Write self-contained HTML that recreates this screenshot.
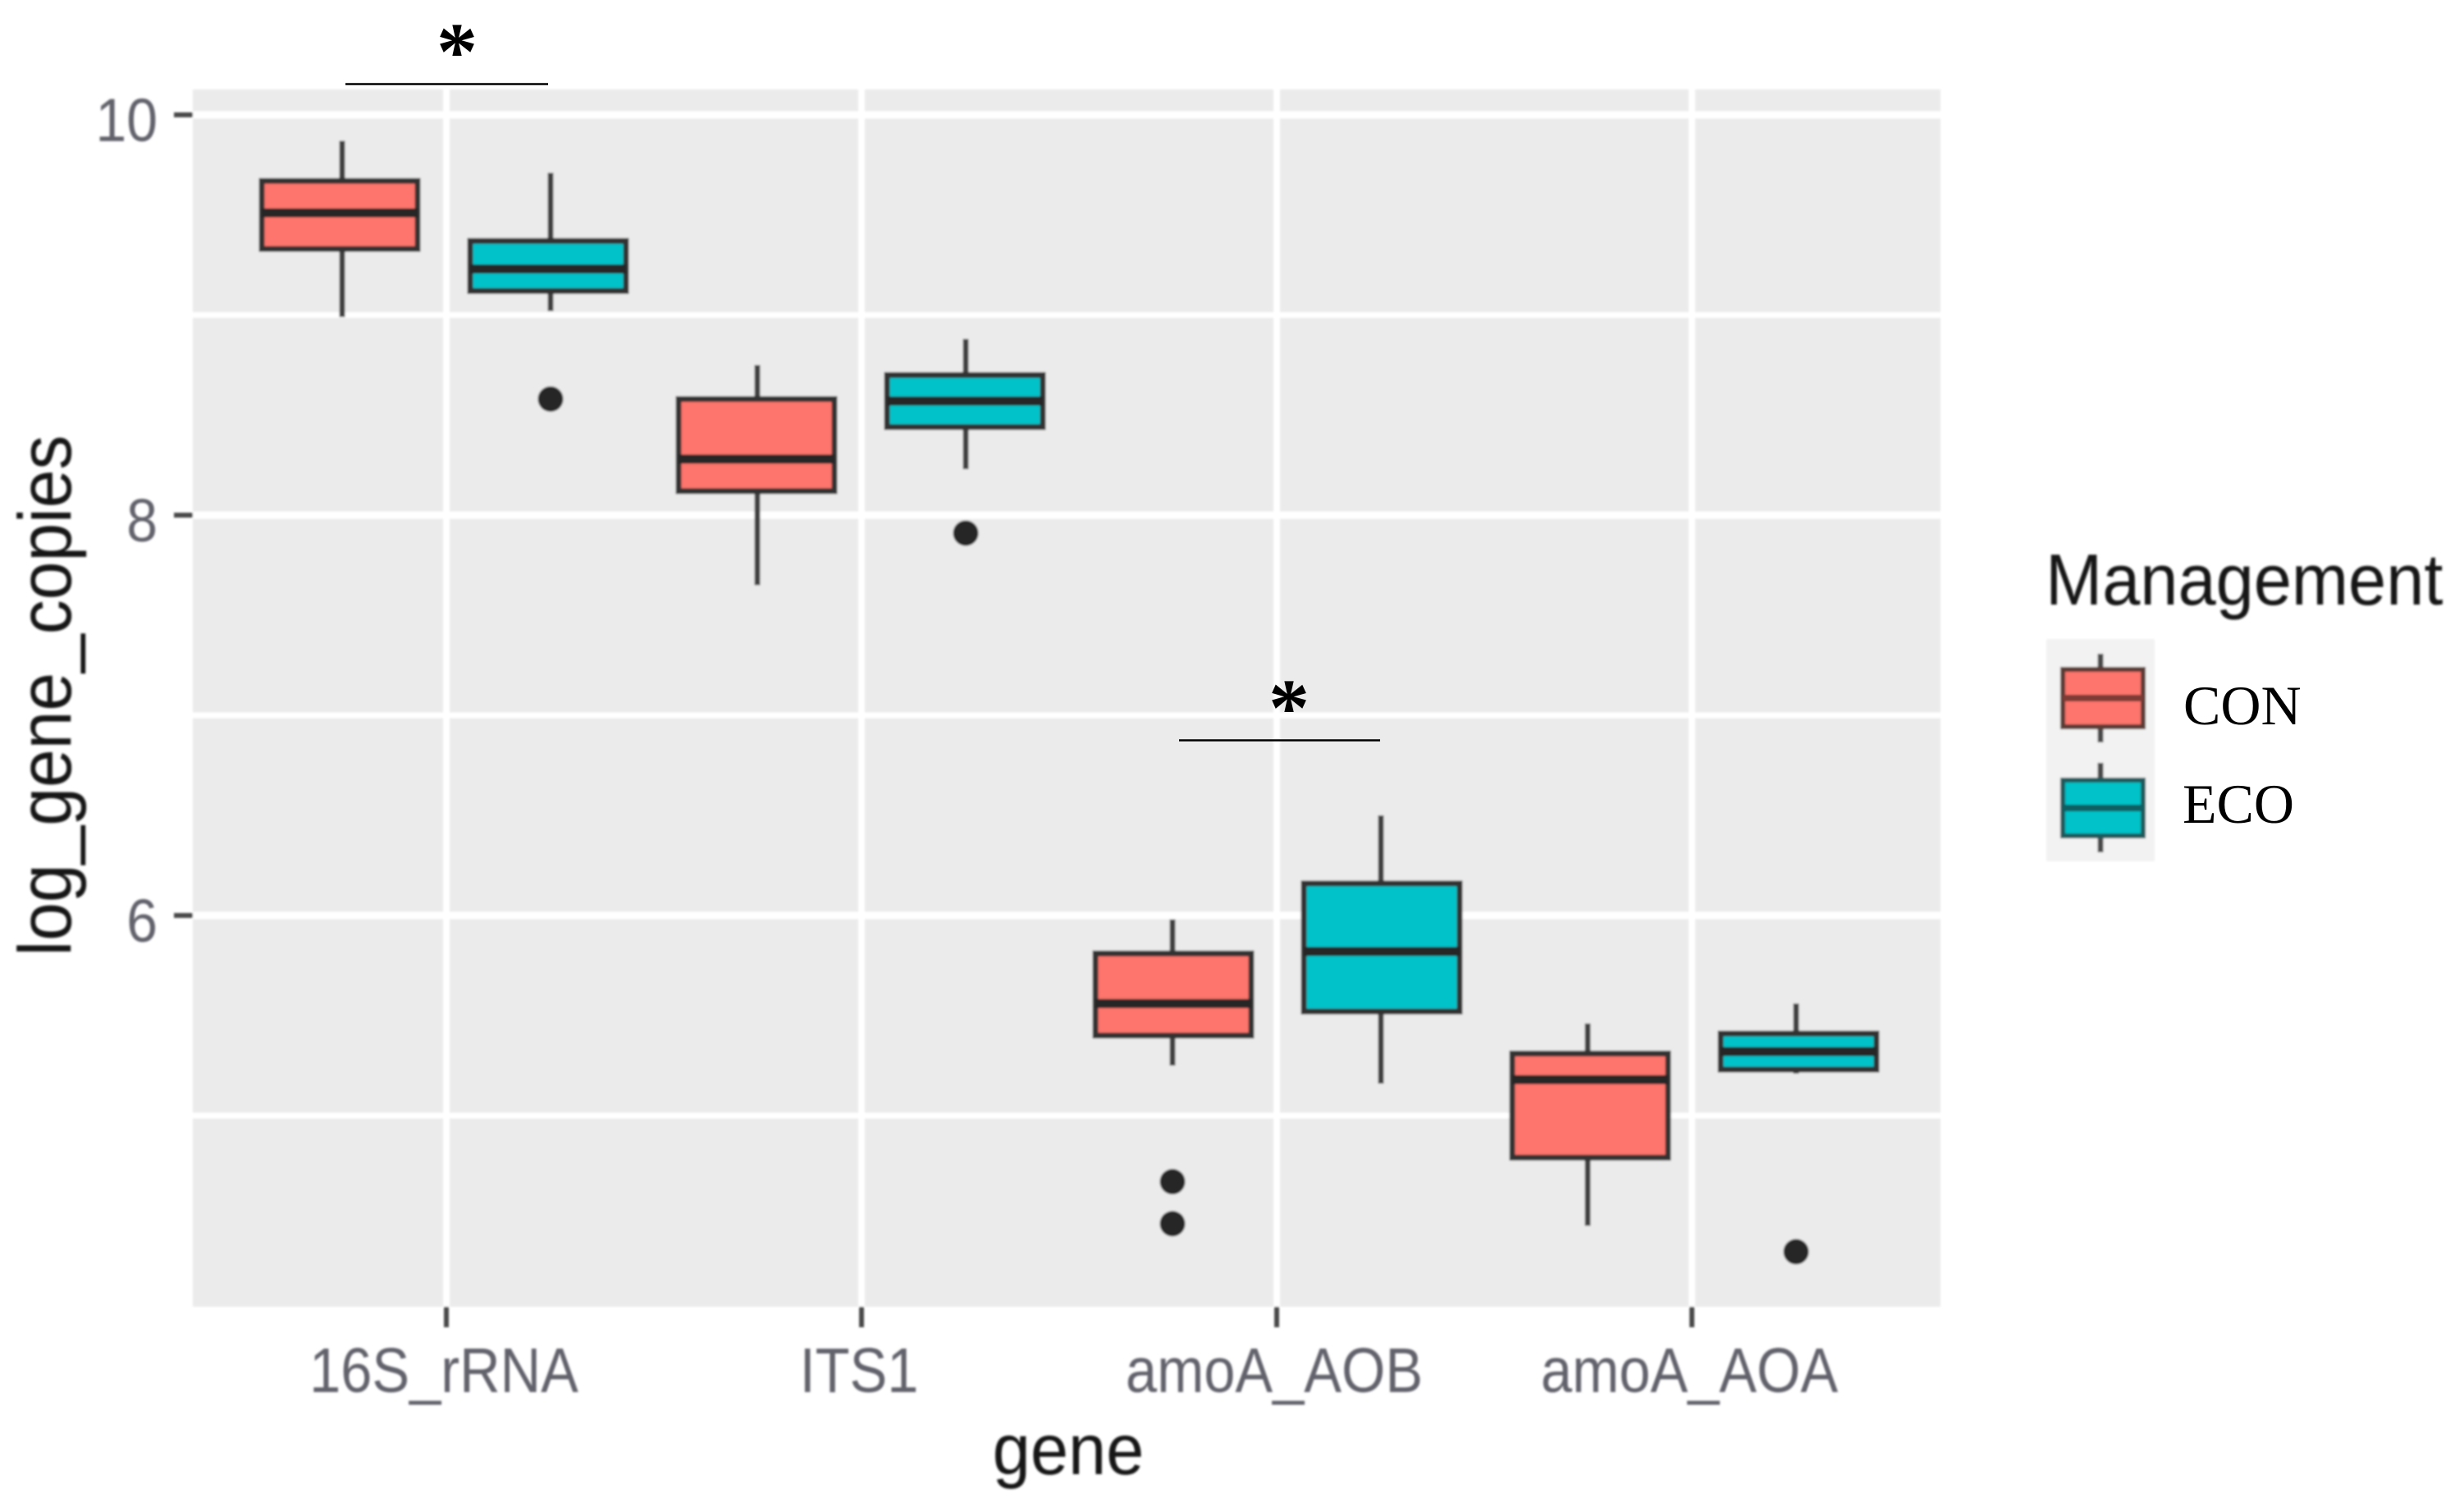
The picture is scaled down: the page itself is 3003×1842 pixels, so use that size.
<!DOCTYPE html>
<html lang="en">
<head>
<meta charset="utf-8">
<title>log_gene_copies by gene and management</title>
<style>
  html, body { margin: 0; padding: 0; background: #fff; }
  svg { display: block; }
  text { font-family: "Liberation Sans", sans-serif; }
</style>
</head>
<body>
<svg id="chart" xmlns="http://www.w3.org/2000/svg" width="3003" height="1842" viewBox="0 0 3003 1842">
  <defs>
    <filter id="soft" x="-5%" y="-5%" width="110%" height="110%">
      <feGaussianBlur stdDeviation="1.3"/>
    </filter>
  </defs>
  <rect x="0" y="0" width="3003" height="1842" fill="#ffffff"/>
  <g filter="url(#soft)">
    <rect x="235" y="109" width="2130" height="1484" fill="#ebebeb"/>
    <g id="grid"></g>
    <g id="axes"></g>
    <g id="marks"></g>

    <text transform="translate(1302 1797) scale(1 1.05)" font-size="83" text-anchor="middle" fill="#141414">gene</text>
    <text transform="translate(86 848) rotate(-90) scale(1 1.08)" font-size="84" text-anchor="middle" fill="#141414">log_gene_copies</text>
  </g>

  <g>
    <line x1="421" x2="668" y1="102.5" y2="102.5" stroke="#000" stroke-width="2.6"/>
    <text x="557" y="96" font-size="100" font-weight="bold" text-anchor="middle" fill="#000" style="font-family:'Liberation Serif',serif">*</text>
  </g>
  <g>
    <line x1="1437" x2="1682" y1="902.5" y2="902.5" stroke="#000" stroke-width="2.6"/>
    <text x="1571" y="896" font-size="100" font-weight="bold" text-anchor="middle" fill="#000" style="font-family:'Liberation Serif',serif">*</text>
  </g>

  <g>
    <g filter="url(#soft)">
      <text transform="translate(2493 737) scale(1 1.06)" font-size="83" fill="#141414">Management</text>
      <rect x="2494" y="779" width="132" height="271" fill="#f2f2f2"/>
      <g>
        <line x1="2560" x2="2560" y1="797" y2="905" stroke="#4a4a4a" stroke-width="7"/>
        <rect x="2514" y="816" width="98" height="70" fill="#fd756c" stroke="#5c3a36" stroke-width="6"/>
        <line x1="2514" x2="2612" y1="851" y2="851" stroke="#7d3a34" stroke-width="8"/>
      </g>
      <g>
        <line x1="2560" x2="2560" y1="930" y2="1039" stroke="#4a4a4a" stroke-width="7"/>
        <rect x="2514" y="951" width="98" height="68" fill="#00c2c8" stroke="#1f5a5c" stroke-width="6"/>
        <line x1="2514" x2="2612" y1="985" y2="985" stroke="#0d5f62" stroke-width="8"/>
      </g>
    </g>
    <text x="2661" y="883" font-size="68" fill="#000" style="font-family:'Liberation Serif',serif">CON</text>
    <text x="2660" y="1003" font-size="68" fill="#000" style="font-family:'Liberation Serif',serif">ECO</text>
  </g>
</svg>

<script>
const categories = ['16S_rRNA', 'ITS1', 'amoA_AOB', 'amoA_AOA'];
const yMajorTicks = [10, 8, 6];
const yMinorTicks = [9, 7, 5];

const conWhiskerHigh = [9.87, 8.75, 5.98, 5.46];
const conQ3 = [9.67, 8.58, 5.81, 5.31];
const conMedian = [9.51, 8.28, 5.56, 5.18];
const conQ1 = [9.33, 8.12, 5.40, 4.79];
const conWhiskerLow = [8.99, 7.65, 5.25, 4.45];
const conOutliers = [[], [], [4.67, 4.46], []];

const ecoWhiskerHigh = [9.71, 8.88, 6.50, 5.56];
const ecoQ3 = [9.37, 8.70, 6.16, 5.41];
const ecoMedian = [9.23, 8.57, 5.82, 5.32];
const ecoQ1 = [9.12, 8.44, 5.52, 5.23];
const ecoWhiskerLow = [9.02, 8.23, 5.16, 5.21];
const ecoOutliers = [[8.58], [7.91], [], [4.32]];

const SVG_NS = 'http://www.w3.org/2000/svg';
const PANEL = { left: 235, right: 2365, top: 109, bottom: 1593 };

function yAxis(v) { return 140 + (10 - v) * 244; }
function xTick(i) { return 544 + 506 * i; }
function xBox(i, side) { return 541 + 508 * i + side * 127; }
function xWhisker(i, side) { return 544 + 506 * i + side * 127; }

function make(parent, tag, attrs) {
  const el = document.createElementNS(SVG_NS, tag);
  Object.keys(attrs).forEach(function (k) { el.setAttribute(k, attrs[k]); });
  parent.appendChild(el);
  return el;
}

const grid = document.getElementById('grid');
const axes = document.getElementById('axes');
const marks = document.getElementById('marks');

yMinorTicks.forEach(function (t) {
  const el = make(grid, 'line', { x1: PANEL.left, x2: PANEL.right, y1: yAxis(t), y2: yAxis(t), stroke: '#ffffff', 'stroke-width': 7 });
  
  
});
yMajorTicks.forEach(function (t) {
  const el = make(grid, 'line', { x1: PANEL.left, x2: PANEL.right, y1: yAxis(t), y2: yAxis(t), stroke: '#ffffff', 'stroke-width': 9 });
  
  

  const tick = make(axes, 'line', { x1: 212, x2: 235, y1: yAxis(t), y2: yAxis(t), stroke: '#4a4a4a', 'stroke-width': 6 });
  
  

  const label = make(axes, 'text', { transform: 'translate(192 ' + (yAxis(t) + 32) + ') scale(0.97 1.06)', 'font-size': 70, 'text-anchor': 'end', fill: '#62626c' });
  
  
  label.textContent = String(t);
});

categories.forEach(function (name, i) {
  const g = make(grid, 'line', { x1: xTick(i), x2: xTick(i), y1: PANEL.top, y2: PANEL.bottom, stroke: '#ffffff', 'stroke-width': 8 });
  
  

  const tick = make(axes, 'line', { x1: xTick(i), x2: xTick(i), y1: PANEL.bottom, y2: 1618, stroke: '#4a4a4a', 'stroke-width': 6 });
  
  

  const label = make(axes, 'text', { transform: 'translate(' + (xTick(i) - 3) + ' 1697) scale(0.98 1.1)', 'font-size': 70, 'text-anchor': 'middle', fill: '#62626c' });
  
  
  label.textContent = name;
});

function drawSeries(key, side, fill, high, q3, med, q1, low, outliers) {
  categories.forEach(function (name, i) {
    const cx = xBox(i, side);
    const wx = xWhisker(i, side);
    const g = make(marks, 'g', {});
    
    

    const whisker = make(g, 'line', { x1: wx, x2: wx, y1: yAxis(high[i]), y2: yAxis(low[i]), stroke: '#404040', 'stroke-width': 7 });
    
    

    const box = make(g, 'rect', { x: cx - 95, width: 190, y: yAxis(q3[i]), height: yAxis(q1[i]) - yAxis(q3[i]), fill: fill, stroke: '#333333', 'stroke-width': 7 });
    
    

    const median = make(g, 'line', { x1: cx - 95, x2: cx + 95, y1: yAxis(med[i]), y2: yAxis(med[i]), stroke: '#262626', 'stroke-width': 11 });
    
    

    outliers[i].forEach(function (v) {
      const dot = make(g, 'circle', { cx: wx, cy: yAxis(v), r: 15.5, fill: '#262626' });
      
      
    });
  });
}

drawSeries('con', -1, '#fd756c', conWhiskerHigh, conQ3, conMedian, conQ1, conWhiskerLow, conOutliers);
drawSeries('eco', 1, '#00c2c8', ecoWhiskerHigh, ecoQ3, ecoMedian, ecoQ1, ecoWhiskerLow, ecoOutliers);
</script>
</body>
</html>
